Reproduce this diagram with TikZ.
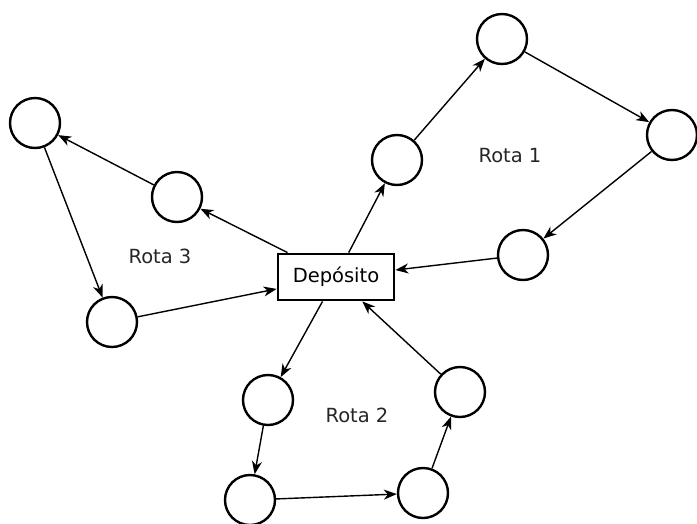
\documentclass[tikz,border=0pt]{standalone}
\usepackage{fontspec}
\setmainfont{DejaVu Sans}
\usetikzlibrary{arrows.meta,shapes}
\tikzset{%
  >={Stealth[width=10pt,length=13pt,inset=4pt]},
  % Specifications for style of nodes:
            depot/.style  = {rectangle, draw=black, line width=2.8pt,
                             minimum width=116pt, minimum height=46pt,
                             text centered, font=\fontsize{19.5}{23}\selectfont},
            client/.style = {circle, draw=black, line width=2.4pt,
                             minimum size=50pt, inner sep=0pt},
            route/.style  = {font=\fontsize{19.5}{23}\selectfont, text=black!85},
            leg/.style    = {->, line width=1.4pt}
                           }

\begin{document}
\begin{tikzpicture}[x=1pt, y=-1pt]
                    \useasboundingbox (0,0) rectangle (697,523);

                    \node (dep)  [depot]  at (336,277) {Depósito};

                    % route 1
                    \node (r1a)  [client] at (397,160) {};
                    \node (r1b)  [client] at (502,39)  {};
                    \node (r1c)  [client] at (672,135) {};
                    \node (r1d)  [client] at (523,255) {};
                    % route 2
                    \node (r2a)  [client] at (268,400) {};
                    \node (r2b)  [client] at (250,500) {};
                    \node (r2c)  [client] at (423,493) {};
                    \node (r2d)  [client] at (460,392) {};
                    % route 3
                    \node (r3a)  [client] at (177,197) {};
                    \node (r3b)  [client] at (35,123)  {};
                    \node (r3c)  [client] at (112,322) {};

                    \node (lab1) [route]  at (510,156) {Rota 1};
                    \node (lab2) [route]  at (357,415) {Rota 2};
                    \node (lab3) [route]  at (160,256) {Rota 3};

                    \draw[leg]  (dep) -- (r1a);
                    \draw[leg]  (r1a) -- (r1b);
                    \draw[leg]  (r1b) -- (r1c);
                    \draw[leg]  (r1c) -- (r1d);
                    \draw[leg]  (r1d) -- (dep);

                    \draw[leg]  (dep) -- (r2a);
                    \draw[leg]  (r2a) -- (r2b);
                    \draw[leg]  (r2b) -- (r2c);
                    \draw[leg]  (r2c) -- (r2d);
                    \draw[leg]  (r2d) -- (dep);

                    \draw[leg]  (dep) -- (r3a);
                    \draw[leg]  (r3a) -- (r3b);
                    \draw[leg]  (r3b) -- (r3c);
                    \draw[leg]  (r3c) -- (dep);
                \end{tikzpicture}
\end{document}
